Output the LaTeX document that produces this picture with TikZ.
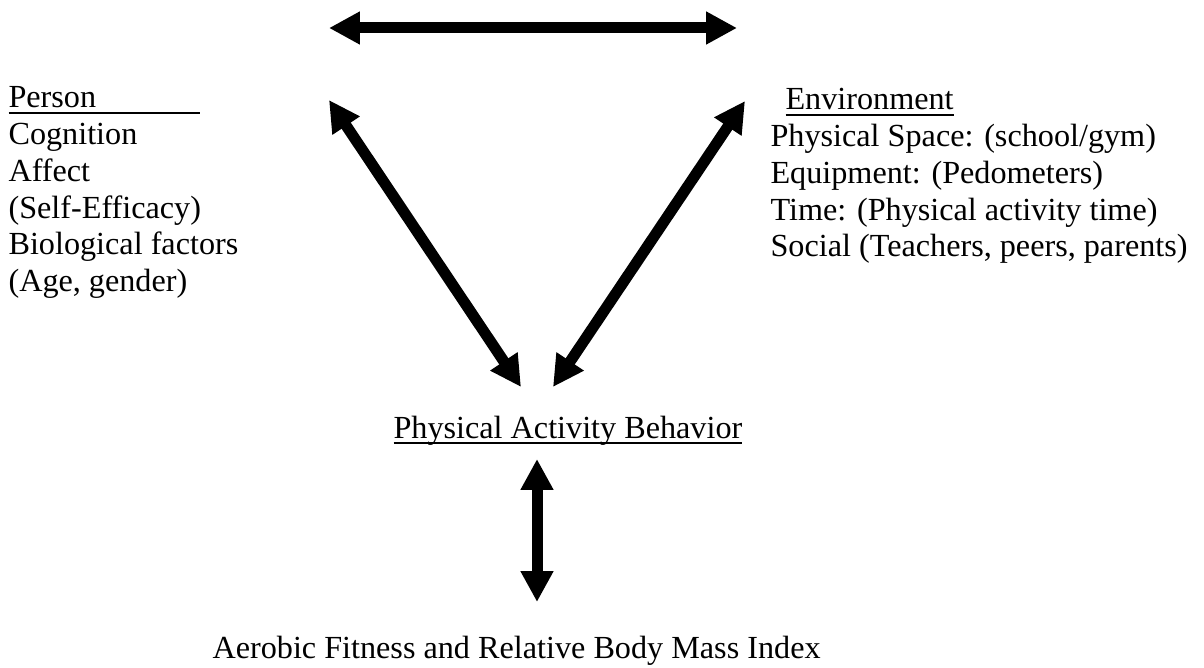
\documentclass[tikz,border=0pt]{standalone}
\usepackage{fontspec}
\setmainfont{Liberation Serif}
\usetikzlibrary{arrows.meta}

\newlength{\ulwd}
\newcommand{\ulword}[1]{\settowidth{\ulwd}{#1}\rlap{\rule[-2.3pt]{\ulwd}{0.8pt}}#1}

\begin{document}
\begin{tikzpicture}[x=0.3727pt,y=-0.3727pt,
    every node/.style={inner sep=0pt,anchor=base west,font=\fontsize{12pt}{13.68pt}\selectfont},
    twoway/.style={line width=4.1pt,{Triangle[length=11.5pt,width=11.5pt]}-{Triangle[length=11.5pt,width=11.5pt]}}]
\useasboundingbox (0,0) rectangle (1204,668);

% person
\node (person) at (8,108) {\ulword{\makebox[71.5pt][l]{Person}}};
\foreach \txt [count=\i] in {Cognition,Affect,(Self-Efficacy),Biological factors,{(Age, gender)}}
{
    \node (person\i) at (8,108+36.7*\i) {\txt};
}

% environment
\node (env) at (785,110) {\ulword{Environment}};
\foreach \txt [count=\i] in {Physical Space: (school/gym),Equipment: (Pedometers),Time: (Physical activity time),{Social (Teachers, peers, parents)}}
{
    \node (env\i) at (770,110+36.7*\i) {\txt};
}

% behavior and outcome
\node (behavior) at (393,438) {\ulword{Physical Activity Behavior}};
\node (fitness) at (212,658) {Aerobic Fitness and Relative Body Mass Index};

% arrow ends
\coordinate (pTop) at (329,28);
\coordinate (eTop) at (737,28);
\coordinate (pArm) at (329,100);
\coordinate (eArm) at (745,101);
\coordinate (bLeft) at (521,387);
\coordinate (bRight) at (553,387);
\coordinate (bDown) at (537,459);
\coordinate (fUp) at (537,602);

\draw[twoway] (pTop)--(eTop);
\draw[twoway] (pArm)--(bLeft);
\draw[twoway] (eArm)--(bRight);
\draw[twoway] (bDown)--(fUp);
\end{tikzpicture}
\end{document}
